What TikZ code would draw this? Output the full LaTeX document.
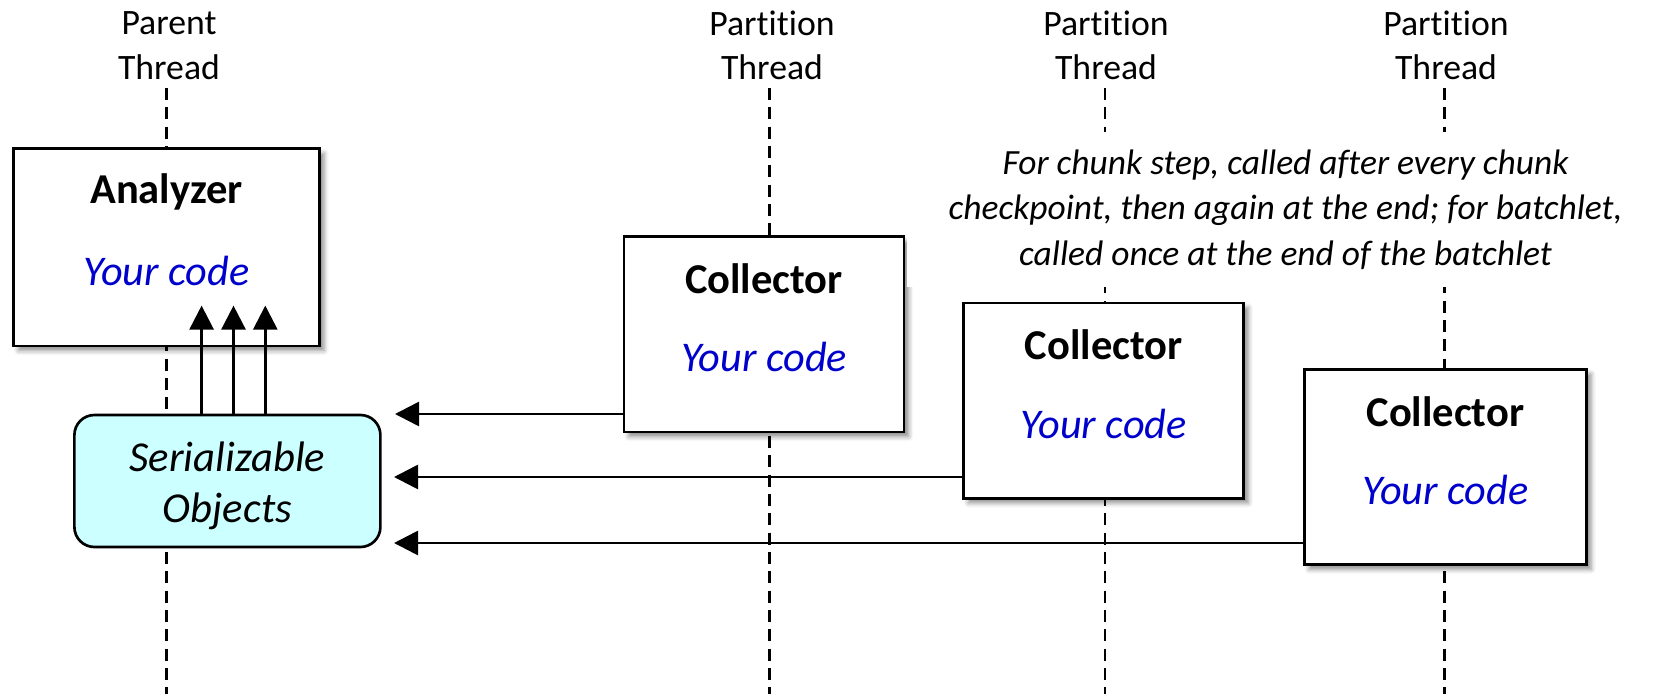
\documentclass[tikz,border=0pt]{standalone}
\usepackage{fontspec}
\setmainfont{Carlito}[Ligatures=NoCommon]
\usetikzlibrary{arrows.meta,shadows.blur,calc}
\definecolor{codeblue}{HTML}{0000CC}
\definecolor{serfill}{HTML}{CCFFFF}
\tikzset{
  lifeline/.style={line width=1.8pt, dash pattern=on 9pt off 5.5pt},
  threadlabel/.style={align=center, inner sep=0pt, font={\fontsize{26.8}{33.5}\selectfont}},
  procbox/.style={draw, line width=2pt, fill=white, minimum width=#1, minimum height=146.5pt, inner sep=0pt,
    blur shadow={shadow xshift=3.5pt, shadow yshift=-3.5pt, shadow blur radius=3.5pt, shadow opacity=45}},
  boxtitle/.style={inner sep=0pt, font={\fontsize{31.9}{38}\selectfont\bfseries}},
  yourcode/.style={inner sep=0pt, text=codeblue, font={\fontsize{31.7}{38}\selectfont\itshape}},
  serbox/.style={draw, line width=2pt, fill=serfill, rounded corners=15pt, minimum width=229.5pt, minimum height=99pt,
    inner sep=0pt},
  sertext/.style={align=center, inner sep=0pt, font={\fontsize{32}{38}\selectfont\itshape}},
  note/.style={fill=white, align=center, inner sep=0pt, minimum width=568pt, minimum height=116pt,
    font={\fontsize{26.6}{34.3}\selectfont\itshape}},
  msg/.style={line width=2pt, -{Triangle[length=18pt, width=18pt]}},
}
\begin{document}
\begin{tikzpicture}[x=0.75pt, y=-0.75pt]
\useasboundingbox (0,0) rectangle (1664,696);
% thread labels
\node[threadlabel] (lab1) at (169,45.5) {Parent\\Thread};
\node[threadlabel] (lab2) at (772,45.5) {Partition\\Thread};
\node[threadlabel] (lab3) at (1106,45.5) {Partition\\Thread};
\node[threadlabel] (lab4) at (1446,45.5) {Partition\\Thread};
% lifelines
\coordinate (t1) at (166.6,88); \coordinate (b1) at (166.6,694);
\coordinate (t2) at (769.4,88); \coordinate (b2) at (769.4,694);
\coordinate (t3) at (1104.7,88); \coordinate (b3) at (1104.7,694);
\coordinate (t4) at (1444.3,88); \coordinate (b4) at (1444.3,694);
\draw[lifeline] (t1) -- (b1);
\draw[lifeline] (t2) -- (b2);
\draw[lifeline] (t3) -- (b3);
\draw[lifeline] (t4) -- (b4);
% analyzer
\node[procbox=229.2pt, minimum height=147.8pt] (an) at (166.6,247.3) {};
\node[boxtitle] (ant) at ($(an.north)+(0,44.6)$) {Analyzer};
\node[yourcode] (anc) at ($(an.north)+(0,124)$) {Your code};
% collectors
\node[procbox=210pt] (c1) at (764,334.3) {};
\node[boxtitle] (c1t) at ($(c1.north)+(0,43.5)$) {Collector};
\node[yourcode] (c1c) at ($(c1.north)+(0,122)$) {Your code};
\node[procbox=210pt] (c2) at (1103.7,400.6) {};
\node[boxtitle] (c2t) at ($(c2.north)+(0,43.5)$) {Collector};
\node[yourcode] (c2c) at ($(c2.north)+(0,122)$) {Your code};
\node[procbox=211.5pt] (c3) at (1445.4,467) {};
\node[boxtitle] (c3t) at ($(c3.north)+(0,43.5)$) {Collector};
\node[yourcode] (c3c) at ($(c3.north)+(0,122)$) {Your code};
% serializable objects
\node[serbox] (ser) at (227.4,481) {};
\node[sertext] (sert) at ($(ser.center)+(0,5)$) {Serializable\\Objects};
% note
\node[note] (nt) at (1285.5,209.5) {For chunk step, called after every chunk\\checkpoint, then again at the end; for batchlet,\\called once at the end of the batchlet};
% up arrows
\coordinate (u1) at (201.6,305.6);
\coordinate (u2) at (233.5,305.6);
\coordinate (u3) at (265.3,305.6);
\draw[msg] (u1 |- ser.north) -- (u1);
\draw[msg] (u2 |- ser.north) -- (u2);
\draw[msg] (u3 |- ser.north) -- (u3);
% messages
\coordinate (h1) at (395,414);
\coordinate (h2) at (394,477);
\coordinate (h3) at (394,543);
\draw[msg] (c1.west |- h1) -- (h1);
\draw[msg] (c2.west |- h2) -- (h2);
\draw[msg] (c3.west |- h3) -- (h3);
\end{tikzpicture}
\end{document}
